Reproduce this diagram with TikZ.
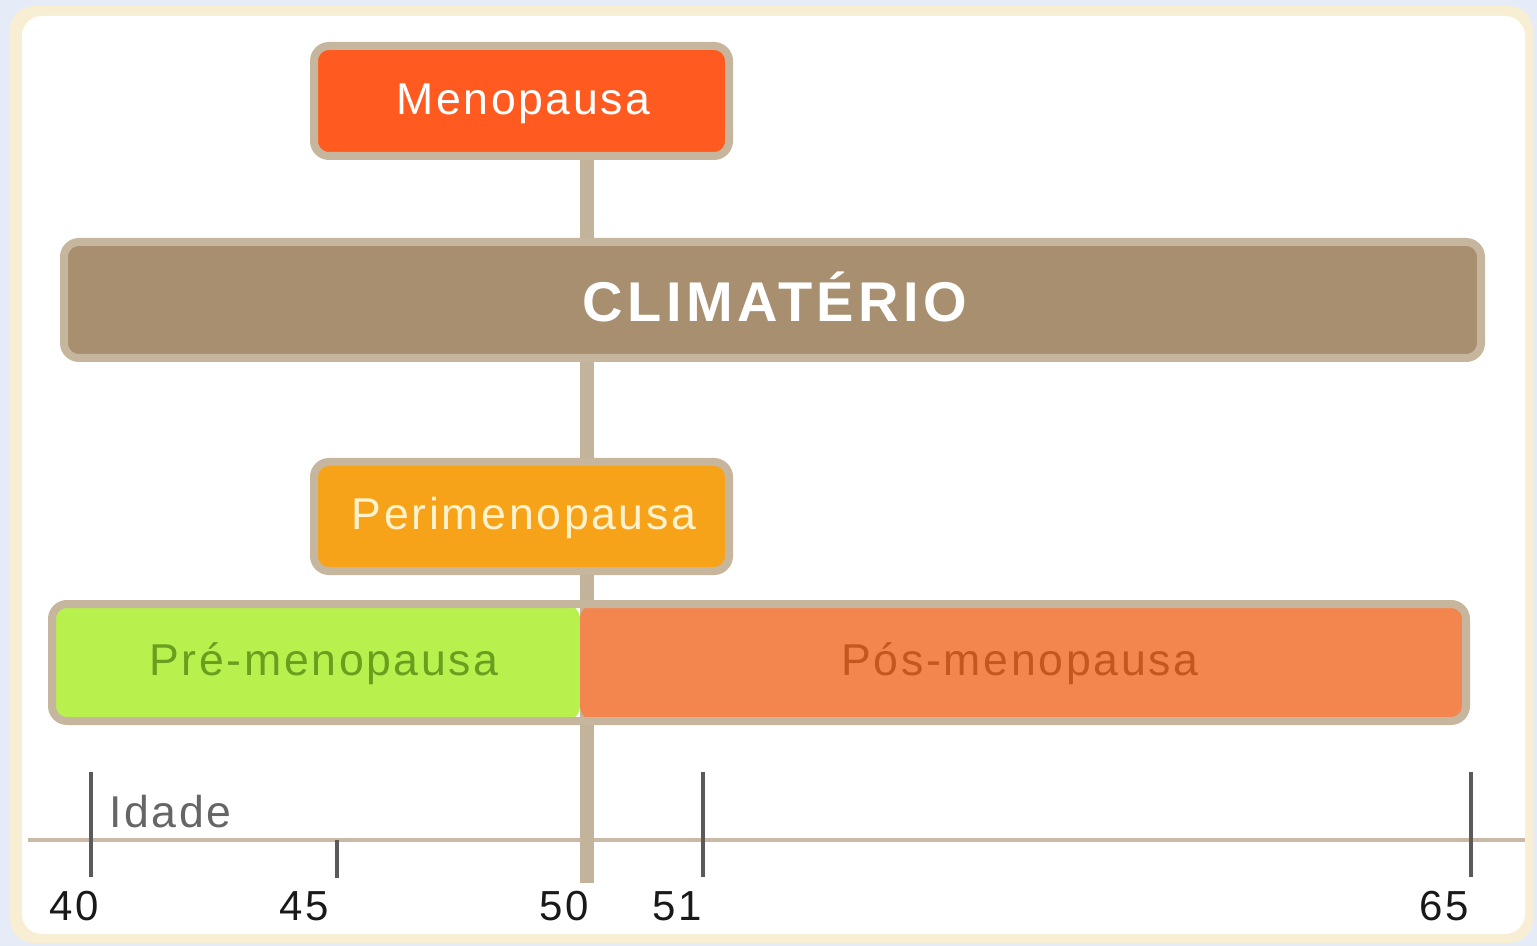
\documentclass[tikz,border=0pt]{standalone}
\usepackage{fontspec}
\setmainfont{Liberation Sans}
\newfontfamily\spacedsans[LetterSpace=6]{Liberation Sans}
\newfontfamily\widesans[LetterSpace=8]{Liberation Sans}
\usetikzlibrary{backgrounds,calc}
\definecolor{outerbg}{HTML}{E6ECF7}
\definecolor{panelrim}{HTML}{F8EED3}
\definecolor{tanrim}{HTML}{C6B69E}
\definecolor{connc}{HTML}{C4B39B}
\definecolor{menoc}{HTML}{FF5B20}
\definecolor{climc}{HTML}{A88F70}
\definecolor{peric}{HTML}{F6A31A}
\definecolor{prec}{HTML}{B8F04E}
\definecolor{posc}{HTML}{F3864E}
\definecolor{pretext}{HTML}{6A9E1F}
\definecolor{postext}{HTML}{C4561F}
\definecolor{peritext}{HTML}{FFF2CC}
\definecolor{axisc}{HTML}{C9B9A6}
\definecolor{tickc}{HTML}{5A5A5A}
\definecolor{idadec}{HTML}{666666}
\tikzset{
  box/.style={draw=tanrim, line width=4pt, rounded corners=7.5pt, inner sep=0pt},
  lbl/.style={font=\spacedsans\fontsize{22.3pt}{26pt}\selectfont, inner sep=0pt, anchor=base},
  num/.style={font=\spacedsans\fontsize{21pt}{25pt}\selectfont, text=black!90, inner sep=0pt, anchor=base},
  tickline/.style={draw=tickc, line width=2pt},
  conn/.style={draw=connc, line width=7pt},
}
\begin{document}
\begin{tikzpicture}[x=0.5pt, y=-0.5pt]
\useasboundingbox (0,0) rectangle (1537,946);

% boxes
\node[box, fill=menoc, minimum width=207.5pt, minimum height=55pt] (meno) at (521.5,101) {};
\node[lbl, text=white] (menot) at (523.5,115) {Menopausa};

\node[box, fill=climc, minimum width=708.5pt, minimum height=58pt] (clim) at (772.5,300) {};
\node[font=\widesans\fontsize{28pt}{32pt}\selectfont\bfseries, text=white, inner sep=0pt, anchor=base] (climt) at (775,322) {CLIMATÉRIO};

\node[box, fill=peric, minimum width=207.5pt, minimum height=54.5pt] (peri) at (521.5,516.5) {};
\node[lbl, text=peritext] (perit) at (524,530) {Perimenopausa};

\node[box, minimum width=707pt, minimum height=58.5pt,
  path picture={
    \fill[prec] (path picture bounding box.north west) rectangle ($(path picture bounding box.south west)+(264pt,0)$);
    \fill[posc] ($(path picture bounding box.north west)+(264pt,0)$) rectangle (path picture bounding box.south east);
  }] (bar) at (759,662.5) {};
\node[lbl, text=pretext] (pre) at (324,675) {Pré-menopausa};
\node[lbl, text=postext] (pos) at (1020,675) {Pós-menopausa};

% axis and connector behind boxes
\coordinate (c50) at (587,883);
\coordinate (axL) at (28,840);
\coordinate (axR) at (1525,840);
\begin{pgfonlayer}{background}
  \fill[outerbg] (0,0) rectangle (1537,946);
  \fill[panelrim, rounded corners=12pt] (10,6) rectangle (1533,943);
  \fill[white, rounded corners=10pt] (22,16) rectangle (1525,934);
  \draw[draw=axisc, line width=2pt] (axL) -- (axR);
  \draw[conn] (meno.south -| c50) -- (c50);
\end{pgfonlayer}
\draw[tickline] (91,772) -- (91,877);
\draw[tickline] (337,840) -- (337,878);
\draw[tickline] (703,772) -- (703,877);
\draw[tickline] (1471,772) -- (1471,877);

\node[lbl, text=idadec, anchor=base west] (idade) at (109,827) {Idade};
\node[num] (n40) at (74,920) {40};
\node[num] (n45) at (304,920) {45};
\node[num] (n50) at (564,920) {50};
\node[num] (n51) at (677,920) {51};
\node[num] (n65) at (1444,920) {65};
\end{tikzpicture}
\end{document}
